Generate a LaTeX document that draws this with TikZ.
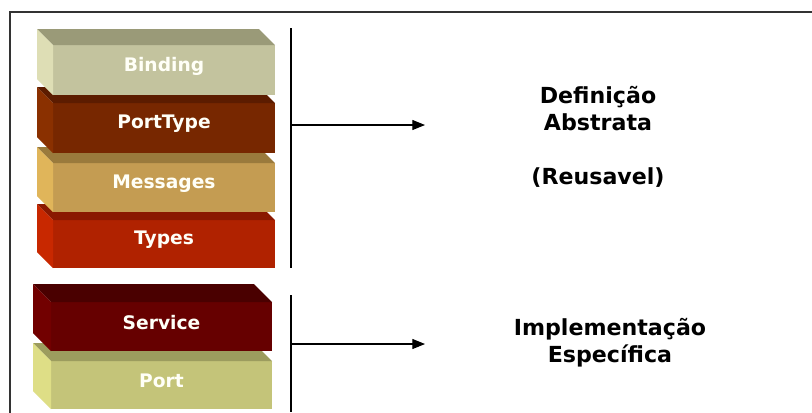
\documentclass[tikz,border=0pt]{standalone}
\usepackage{fontspec}
\setmainfont{DejaVu Sans}
\usetikzlibrary{arrows.meta,calc}

% slab colours: front / top / side
\definecolor{bindF}{HTML}{C3C39E}\definecolor{bindT}{HTML}{9A9A78}\definecolor{bindS}{HTML}{DEDEB5}
\definecolor{ptF}{HTML}{772700}\definecolor{ptT}{HTML}{5C1C00}\definecolor{ptS}{HTML}{8A3000}
\definecolor{msgF}{HTML}{C49C52}\definecolor{msgT}{HTML}{9A7A3C}\definecolor{msgS}{HTML}{E0B55A}
\definecolor{typF}{HTML}{B02200}\definecolor{typT}{HTML}{8A1800}\definecolor{typS}{HTML}{C82800}
\definecolor{svcF}{HTML}{660000}\definecolor{svcT}{HTML}{4A0000}\definecolor{svcS}{HTML}{720000}
\definecolor{portF}{HTML}{C4C479}\definecolor{portT}{HTML}{9C9C5E}\definecolor{portS}{HTML}{DEDE86}
\definecolor{frameC}{HTML}{333333}

% 3D slab: name, x, y (front top-left), width, height (px), depth, front, top, side
\newcommand\slab[9]{%
  \node[slabface, fill=#7, minimum width=#4*0.75pt, minimum height=#5*0.75pt]
    (#1) at (#2,#3) {};
  \fill[#8] (#1.north west) -- ++(-#6,-#6) -- ($(#1.north east)+(-#6,-#6)$)
    -- (#1.north east) -- cycle;
  \fill[#9] (#1.north west) -- ++(-#6,-#6) -- ($(#1.south west)+(-#6,-#6)$)
    -- (#1.south west) -- cycle;
}

\begin{document}
\begin{tikzpicture}[x=0.75pt, y=-0.75pt,
  slabface/.style={rectangle, anchor=north west, inner sep=0pt, outer sep=0pt, draw=none},
  slablbl/.style={font=\fontsize{14}{16}\selectfont\bfseries, text=white!97!yellow},
  sidelbl/.style={font=\fontsize{16.6}{20.25}\selectfont\bfseries, align=center, text=black},
  divider/.style={line width=0.8pt, black},
  arr/.style={line width=0.8pt, black, -{Triangle[length=9.5pt, width=7.5pt]}}]

\useasboundingbox (0,0) rectangle (812,412);
\clip (0,0) rectangle (812,412);

% outer frame
\draw[frameC, line width=1.4pt] (10,12) rectangle (830,430);

% abstract definition stack (bottom slab first)
\slab{types}{53}{220}{222}{48}{16}{typF}{typT}{typS}
\slab{messages}{53}{163}{222}{49}{16}{msgF}{msgT}{msgS}
\slab{porttype}{53}{103}{222}{50}{16}{ptF}{ptT}{ptS}
\slab{binding}{53}{45}{222}{50}{16}{bindF}{bindT}{bindS}

\node[slablbl] (lbind) at ([yshift=3pt]binding.center) {Binding};
\node[slablbl] (lpt) at ([yshift=3pt]porttype.center) {PortType};
\node[slablbl] (lmsg) at ([yshift=3pt]messages.center) {Messages};
\node[slablbl] (ltyp) at ([yshift=3pt]types.center) {Types};

% concrete implementation stack
\slab{port}{51}{361}{221}{48}{18}{portF}{portT}{portS}
\slab{service}{51}{302}{221}{49}{18}{svcF}{svcT}{svcS}

\node[slablbl] (lsvc) at ([yshift=3pt]service.center) {Service};
\node[slablbl] (lport) at ([yshift=3pt]port.center) {Port};

% dividers and arrows
\coordinate (d1t) at (291,28);
\coordinate (d1b) at (291,268);
\coordinate (a1s) at (291,125);
\coordinate (a1e) at (425,125);
\draw[divider] (d1t) -- (d1b);
\draw[arr] (a1s) -- (a1e);

\coordinate (d2t) at (291,295);
\coordinate (d2b) at (291,412);
\coordinate (a2s) at (291,344);
\coordinate (a2e) at (425,344);
\draw[divider] (d2t) -- (d2b);
\draw[arr] (a2s) -- (a2e);

% descriptions
\node[sidelbl] (abstr) at (598,137) {Definição\\Abstrata\\[20.25pt](Reusavel)};
\node[sidelbl] (impl) at (610,343) {Implementação\\Específica};
\end{tikzpicture}
\end{document}
